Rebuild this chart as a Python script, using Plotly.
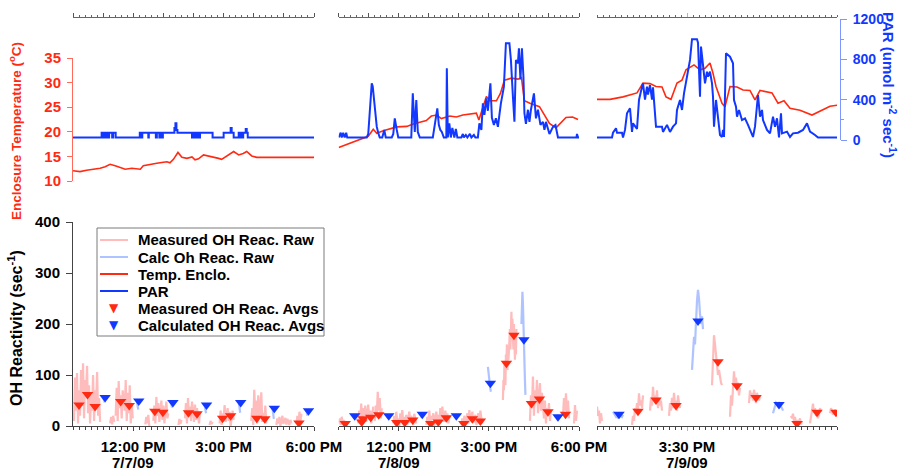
import pandas as pd
import plotly.graph_objects as go

W, H = 903, 470
FONT = "Liberation Sans, Arial, Helvetica, sans-serif"

# ---------------------------------------------------------------- data
DAYS = ["2009-07-07", "2009-07-08", "2009-07-09"]
SPANS = [("10:00", "18:00"), ("10:00", "18:00"), ("14:00", "18:00")]

# bottom axis labels: (time, first line, second line)
xlab1 = [("12:00", "12:00 PM", "7/7/09"), ("15:00", "3:00 PM", ""), ("18:00", "6:00 PM", "")]
xlab2 = [("12:00", "12:00 PM", "7/8/09"), ("15:00", "3:00 PM", ""), ("18:00", "6:00 PM", "")]
xlab3 = [("15:30", "3:30 PM", "7/9/09")]

temp_ticks = [10, 15, 20, 25, 30, 35]
par_ticks = [0, 400, 800, 1200]
par_minor = [200, 600, 1000]
oh_ticks = [0, 100, 200, 300, 400]

# Enclosure temperature (deg C)
temp1 = [("10:00", 12.1), ("10:14", 11.9), ("10:27", 12.2), ("10:41", 12.4), ("10:54", 12.6),
         ("11:04", 12.9), ("11:14", 13.4), ("11:24", 13.1), ("11:34", 12.7), ("11:44", 12.4),
         ("11:57", 12.6), ("12:14", 12.4), ("12:20", 13.1), ("12:33", 13.4), ("12:47", 13.6),
         ("13:00", 13.8), ("13:07", 13.9), ("13:13", 13.7), ("13:20", 14.4), ("13:29", 15.8),
         ("13:37", 14.8), ("13:47", 14.6), ("13:57", 14.9), ("14:03", 14.3), ("14:10", 14.5),
         ("14:20", 15.3), ("14:30", 15.1), ("14:40", 14.9), ("14:50", 14.6), ("14:56", 14.4),
         ("15:06", 15.1), ("15:20", 16.0), ("15:30", 15.3), ("15:39", 15.6), ("15:46", 16.0),
         ("15:56", 15.1), ("16:06", 14.8), ("16:26", 14.8), ("16:46", 14.7), ("17:12", 14.8),
         ("17:39", 14.7), ("18:00", 14.8)]
temp2 = [("10:00", 16.8), ("10:22", 17.7), ("10:59", 19.1), ("11:09", 20.5), ("11:16", 19.7),
         ("11:29", 20.2), ("11:56", 21.0), ("12:16", 21.1), ("12:29", 21.6), ("12:55", 22.3),
         ("13:05", 23.2), ("13:16", 23.4), ("13:25", 22.7), ("13:42", 23.2), ("13:55", 23.0),
         ("14:08", 23.4), ("14:35", 23.8), ("14:40", 22.4), ("14:45", 24.0), ("14:55", 27.2),
         ("15:02", 26.3), ("15:15", 26.3), ("15:23", 27.8), ("15:31", 30.5), ("15:45", 30.9),
         ("15:58", 30.7), ("16:05", 31.0), ("16:11", 26.3), ("16:22", 25.8), ("16:41", 25.1),
         ("17:01", 21.7), ("17:14", 20.8), ("17:34", 22.9), ("17:47", 23.0), ("17:58", 22.5)]
temp3 = [("14:00", 26.6), ("14:13", 26.6), ("14:26", 27.1), ("14:40", 27.9), ("14:46", 29.9),
         ("14:53", 29.8), ("14:59", 29.2), ("15:05", 29.1), ("15:09", 27.1), ("15:14", 26.6),
         ("15:20", 29.9), ("15:25", 30.5), ("15:29", 32.6), ("15:37", 33.6), ("15:43", 32.6),
         ("15:48", 32.9), ("15:53", 34.0), ("15:56", 31.9), ("15:59", 29.2), ("16:05", 25.8),
         ("16:08", 25.1), ("16:13", 29.2), ("16:20", 29.1), ("16:26", 28.5), ("16:33", 28.4),
         ("16:38", 26.5), ("16:43", 28.4), ("16:55", 27.9), ("17:01", 25.8), ("17:07", 26.3),
         ("17:13", 24.8), ("17:23", 24.4), ("17:35", 23.4), ("17:43", 24.2), ("17:53", 25.2),
         ("18:00", 25.4)]

# PAR (umol m-2 s-1)
par1 = [("10:00", 25), ("10:57", 72), ("11:00", 25), ("11:02", 72), ("11:05", 25), ("11:07", 72),
        ("11:10", 25), ("11:12", 72), ("11:18", 25), ("11:20", 72), ("11:25", 25), ("12:13", 72),
        ("12:16", 25), ("12:18", 72), ("12:30", 25), ("12:31", 72), ("12:45", 25), ("12:47", 72),
        ("12:52", 25), ("12:54", 72), ("12:57", 25), ("12:59", 72), ("13:22", 120), ("13:24", 165),
        ("13:26", 100), ("13:28", 72), ("13:57", 25), ("13:59", 72), ("14:01", 25), ("14:03", 72),
        ("14:05", 25), ("14:08", 72), ("14:11", 25), ("14:13", 72), ("14:38", 25), ("15:00", 72),
        ("15:14", 120), ("15:16", 72), ("15:20", 25), ("15:30", 72), ("15:32", 25), ("15:34", 72),
        ("15:37", 25), ("15:39", 72), ("15:44", 110), ("15:46", 72), ("15:48", 25), ("18:00", 25)]
par2 = [("10:00", 25), ("10:04", 72), ("10:06", 25), ("10:09", 72), ("10:12", 25), ("10:15", 72),
        ("10:17", 25), ("10:56", 25), ("10:59", 60), ("11:02", 268), ("11:06", 562), ("11:08", 530),
        ("11:10", 430), ("11:13", 250), ("11:16", 132), ("11:19", 70), ("11:22", 25), ("11:27", 25),
        ("11:31", 99), ("11:34", 25), ("11:46", 25), ("11:49", 60), ("11:52", 215), ("11:56", 100),
        ("11:59", 25), ("12:25", 25), ("12:28", 463), ("12:32", 80), ("12:35", 397), ("12:38", 80),
        ("12:42", 25), ("13:08", 25), ("13:12", 165), ("13:15", 250), ("13:17", 314), ("13:20", 150),
        ("13:23", 100), ("13:26", 80), ("13:30", 25), ("13:35", 25), ("13:36", 711), ("13:38", 25),
        ("13:41", 165), ("13:44", 25), ("13:47", 120), ("13:51", 25), ("13:54", 110), ("13:57", 25),
        ("14:05", 25), ("14:08", 60), ("14:10", 25), ("14:14", 50), ("14:17", 25), ("14:22", 60),
        ("14:25", 25), ("14:30", 50), ("14:33", 25), ("14:38", 25), ("14:41", 165), ("14:45", 100),
        ("14:48", 364), ("14:51", 250), ("14:55", 413), ("14:58", 290), ("15:01", 450), ("15:03", 562),
        ("15:06", 220), ("15:10", 150), ("15:14", 215), ("15:18", 130), ("15:21", 250), ("15:24", 364),
        ("15:30", 529), ("15:34", 959), ("15:41", 959), ("15:44", 794), ("15:48", 430), ("15:51", 182),
        ("15:54", 794), ("15:58", 760), ("16:00", 910), ("16:03", 600), ("16:06", 910), ("16:09", 628),
        ("16:11", 265), ("16:14", 160), ("16:18", 300), ("16:21", 180), ("16:24", 300), ("16:30", 463),
        ("16:34", 215), ("16:38", 300), ("16:43", 150), ("16:48", 180), ("16:51", 100), ("16:54", 180),
        ("17:01", 60), ("17:08", 130), ("17:13", 149), ("17:18", 25), ("17:55", 25), ("17:56", 60),
        ("17:58", 25), ("18:00", 25)]
par3 = [("14:00", 25), ("14:15", 25), ("14:16", 72), ("14:19", 116), ("14:20", 72), ("14:25", 72),
        ("14:26", 25), ("14:28", 100), ("14:30", 265), ("14:33", 314), ("14:35", 80), ("14:36", 165),
        ("14:40", 110), ("14:42", 397), ("14:45", 529), ("14:46", 562), ("14:48", 400), ("14:50", 529),
        ("14:51", 450), ("14:53", 545), ("14:55", 400), ("14:56", 523), ("14:59", 132), ("15:05", 132),
        ("15:06", 80), ("15:10", 150), ("15:13", 80), ("15:16", 132), ("15:19", 165), ("15:20", 298),
        ("15:23", 397), ("15:25", 298), ("15:27", 463), ("15:30", 628), ("15:33", 794), ("15:35", 999),
        ("15:40", 999), ("15:41", 965), ("15:43", 430), ("15:44", 926), ("15:46", 728), ("15:48", 562),
        ("15:50", 678), ("15:51", 628), ("15:53", 678), ("15:55", 562), ("15:56", 430), ("15:57", 132),
        ("15:59", 397), ("16:01", 232), ("16:03", 50), ("16:05", 30), ("16:06", 100), ("16:07", 30),
        ("16:09", 860), ("16:13", 826), ("16:16", 761), ("16:17", 397), ("16:19", 331), ("16:20", 232),
        ("16:22", 298), ("16:25", 198), ("16:28", 215), ("16:31", 150), ("16:33", 100), ("16:36", 30),
        ("16:38", 132), ("16:40", 397), ("16:41", 446), ("16:43", 232), ("16:45", 298), ("16:46", 198),
        ("16:50", 100), ("16:53", 66), ("16:56", 232), ("16:58", 132), ("17:00", 215), ("17:02", 25),
        ("17:04", 265), ("17:05", 66), ("17:10", 83), ("17:13", 30), ("17:16", 66), ("17:21", 72),
        ("17:26", 100), ("17:30", 165), ("17:33", 83), ("17:38", 50), ("17:41", 25), ("18:00", 25)]

# Raw OH reactivity bursts: (start time, minutes between samples, values)
raw_meas1 = [("10:02", 2, [10, 95, 30, 104, 5, 70, 20, 110, 40, 123, 15, 90, 60, 118, 25, 80, 5, 60,
                           30, 100, 10, 70, 40, 106, 20, 55, 8]),
             ("11:14", 2, [5, 18, 3, 20, 8]),
             ("11:25", 2, [20, 75, 10, 88, 35, 60, 15, 70, 50, 30, 90, 10, 65, 25, 80, 5, 45, 15]),
             ("12:24", 2, [3, 18, 5, 22, 0]),
             ("12:40", 2, [10, 40, 5, 57, 20, 45, 8, 35, 50, 12, 40, 5, 30, 48, 15, 25]),
             ("13:30", 2, [2, 14, 4, 12]),
             ("13:43", 2, [15, 45, 5, 55, 20, 38, 10, 48, 30, 8, 42, 12, 35, 20, 5, 28]),
             ("14:32", 2, [2, 10, 4, 8]),
             ("14:52", 2, [5, 30, 2, 25, 15, 41, 8, 20, 35, 10, 28, 0, 18, 30, 12]),
             ("15:55", 2, [10, 35, 2, 71, 20, 50, 5, 60, 15, 30, 66, 8, 25, 12, 40, 5]),
             ("16:45", 2, [2, 15, 5, 18, 0, 12, 20, 4, 10, 16, 3, 14, 8, 2, 12, 5]),
             ("17:25", 2, [5, 20, 2, 28, 10, 24])]
raw_meas2 = [("10:00", 2, [5, 15, 2, 18, 8, 12, 3, 10]),
             ("10:39", 2, [5, 30, 10, 44, 2, 35, 20, 40, 8, 25, 42, 12, 30, 5, 20, 38]),
             ("11:12", 2, [10, 40, 20, 67, 30, 55, 15, 35]),
             ("11:49", 2, [5, 20, 2, 28, 10, 15, 0, 25, 12, 31, 5, 18, 8, 22, 3, 15, 28, 6, 20, 10,
                           2, 24, 14, 5]),
             ("12:55", 2, [2, 18, 8, 30, 4, 20, 12, 25, 0, 15, 28, 10, 22, 5, 35, 12, 38, 20, 8, 30,
                           15, 25, 5, 18]),
             ("14:05", 2, [3, 15, 0, 20, 8, 12, 25, 5, 31, 10, 18, 28, 6, 15, 22, 2, 12, 25, 8, 30,
                           15, 5]),
             ("15:28", 1, [51, 90, 70, 120, 100, 80, 140, 125, 160, 110, 150, 130, 145, 170, 190, 150,
                           200, 224, 180, 210, 170, 150, 200, 160, 130, 170, 140, 190]),
             ("16:22", 2, [10, 60, 35, 97, 20, 70, 45, 90, 25, 55, 84, 30, 65, 40, 15, 50, 5, 35, 20,
                           45, 10, 30]),
             ("17:28", 2, [20, 55, 30, 64, 25, 50, 15]),
             ("17:50", 2, [5, 41, 10, 30])]
raw_meas3 = [("14:00", 1, [38, 20, 30, 5, 25, 10]),
             ("14:35", 1, [2, 20, 10, 35, 25, 45, 30, 64, 40, 50, 35, 60]),
             ("14:53", 1, [30, 55, 40, 77, 50, 60, 45, 70, 35, 55, 40, 50, 30]),
             ("15:12", 1, [20, 45, 30, 55, 35, 65, 40, 50, 30, 60, 45, 35]),
             ("15:55", 1, [80, 150, 178, 160, 140, 120, 100, 110, 90, 85, 80]),
             ("16:13", 1, [18, 60, 40, 90, 107, 80, 95, 70, 85, 60, 75]),
             ("16:32", 1, [45, 70, 55, 65, 50, 71, 60, 45, 65, 55, 50, 60]),
             ("17:14", 1, [20, 15, 24, 10, 18, 5, 12, 2, 8, 15, 3, 10]),
             ("17:33", 1, [5, 20, 30, 44, 25, 35, 20, 30, 15, 25, 35, 28]),
             ("17:53", 1, [25, 35, 30, 22, 28, 32, 26, 30])]

raw_calc1 = [("11:00", 1, [58, 54, 50, 46]), ("12:07", 1, [50, 44, 38, 32]),
             ("13:15", 1, [48, 42, 36]), ("14:22", 1, [42, 36, 30, 25]),
             ("15:30", 1, [48, 40, 32, 26]), ("16:37", 1, [38, 30, 22, 14]),
             ("17:45", 1, [32, 26, 20])]
raw_calc2 = [("10:29", 1, [22, 18, 14]), ("11:37", 1, [22, 18, 15]), ("12:44", 1, [25, 20, 16]),
             ("13:52", 1, [22, 18, 15]), ("14:58", 1, [116, 105, 95, 88, 80, 72, 67]),
             ("16:05", 1, [200, 230, 263, 240, 180, 150, 120, 90, 61]),
             ("17:15", 1, [20, 15, 12])]
raw_calc3 = [("14:16", 1, [28, 25, 22, 18, 20, 15, 22, 25, 20, 18, 22]),
             ("15:35", 1, [110, 140, 175, 160, 215, 245, 267, 250, 220, 200, 215, 190]),
             ("16:56", 1, [25, 32, 40, 46, 44, 42, 45, 40, 38, 35, 30])]

# Averages (sec-1)
avg_meas1 = [("10:12", 41), ("10:29", 62), ("10:44", 38), ("11:35", 48), ("11:52", 40),
             ("12:43", 29), ("12:59", 27), ("13:50", 26), ("14:07", 24), ("14:58", 15),
             ("15:14", 20), ("16:06", 15), ("16:22", 14), ("17:30", 6)]
avg_calc1 = [("11:04", 56), ("12:11", 49), ("13:19", 46), ("14:26", 41), ("15:34", 46),
             ("16:41", 35), ("17:49", 30)]
avg_meas2 = [("10:13", 5), ("10:46", 8), ("10:49", 14), ("11:04", 17), ("11:20", 22),
             ("11:56", 7), ("12:12", 7), ("12:28", 12), ("13:04", 5), ("13:19", 8),
             ("13:35", 16), ("14:10", 5), ("14:27", 14), ("14:43", 10), ("15:35", 123),
             ("15:50", 178), ("16:25", 44), ("16:41", 53), ("16:58", 28), ("17:33", 23)]
avg_calc2 = [("10:32", 20), ("11:40", 20), ("12:47", 23), ("13:55", 20), ("15:03", 84),
             ("16:10", 169), ("17:18", 18)]
avg_meas3 = [("14:41", 29), ("14:59", 51), ("15:19", 40), ("16:01", 126), ("16:20", 79),
             ("16:39", 56), ("17:20", 5), ("17:40", 27), ("17:59", 27)]
avg_calc3 = [("14:22", 23), ("15:41", 206), ("17:02", 42)]

legend_names = ["Measured OH Reac. Raw", "Calc Oh Reac. Raw", "Temp. Enclo.", "PAR",
                "Measured OH Reac. Avgs", "Calculated OH Reac. Avgs"]

# ---------------------------------------------------------------- style / layout
RED = "#ff2a12"
BLUE = "#1238ff"
PINK = "rgba(255,165,165,0.75)"
LBLUE = "rgba(160,185,255,0.85)"
RED_AX = "#ff6a5a"
BLUE_AX = "#7d97ff"
legend_styles = [("line", PINK), ("line", LBLUE), ("line", RED), ("line", BLUE),
                 ("tri", RED), ("tri", BLUE)]

PX_X = [(73, 314), (338.7, 579), (597, 837)]


def fx(p):
    return p / W


def fy(p):
    return 1 - p / H


def stamp(day, hhmm):
    return f"{day} {hhmm}:00"


def series(day, pairs):
    return [stamp(day, t) for t, _ in pairs], [v for _, v in pairs]


def segments(day, segs):
    xs, ys = [], []
    for start, step, vals in segs:
        t0 = pd.Timestamp(stamp(day, start))
        for k, v in enumerate(vals):
            xs.append((t0 + pd.Timedelta(minutes=step * k)).strftime("%Y-%m-%d %H:%M:%S"))
            ys.append(v)
        xs.append(None)
        ys.append(None)
    return xs, ys


def times(day, start, end, step):
    t = pd.Timestamp(stamp(day, start))
    e = pd.Timestamp(stamp(day, end))
    out = []
    while t <= e:
        out.append(t.strftime("%Y-%m-%d %H:%M:%S"))
        t += pd.Timedelta(minutes=step)
    return out


TEMPS = [temp1, temp2, temp3]
PARS = [par1, par2, par3]
RAWM = [raw_meas1, raw_meas2, raw_meas3]
RAWC = [raw_calc1, raw_calc2, raw_calc3]
AVGM = [avg_meas1, avg_meas2, avg_meas3]
AVGC = [avg_calc1, avg_calc2, avg_calc3]
XLABS = [xlab1, xlab2, xlab3]

fig = go.Figure()
TOP = ["x", "x2", "x3"]
BOT = ["x4", "x5", "x6"]

for i in range(3):
    tx, tv = series(DAYS[i], TEMPS[i])
    fig.add_trace(go.Scatter(x=tx, y=tv, xaxis=TOP[i], yaxis="y", mode="lines",
                             line=dict(color=RED, width=1.6), name="Temp. Enclo.",
                             showlegend=False, hoverinfo="skip"))
for i in range(3):
    px_, pv = series(DAYS[i], PARS[i])
    fig.add_trace(go.Scatter(x=px_, y=pv, xaxis=TOP[i], yaxis="y2", mode="lines",
                             line=dict(color=BLUE, width=2, shape="hv" if i == 0 else "linear"),
                             name="PAR", showlegend=False, hoverinfo="skip"))
for i in range(3):
    day = DAYS[i]
    rx, ry = segments(day, RAWM[i])
    fig.add_trace(go.Scatter(x=rx, y=ry, xaxis=BOT[i], yaxis="y3", mode="lines",
                             line=dict(color=PINK, width=2.2), name=legend_names[0],
                             showlegend=False, connectgaps=False, hoverinfo="skip"))
    cx, cy = segments(day, RAWC[i])
    fig.add_trace(go.Scatter(x=cx, y=cy, xaxis=BOT[i], yaxis="y3", mode="lines",
                             line=dict(color=LBLUE, width=2.2), name=legend_names[1],
                             showlegend=False, connectgaps=False, hoverinfo="skip"))
    mx, my = series(day, AVGM[i])
    fig.add_trace(go.Scatter(x=mx, y=my, xaxis=BOT[i], yaxis="y3", mode="markers",
                             marker=dict(symbol="triangle-down", size=10, color=RED),
                             name=legend_names[4], showlegend=False, hoverinfo="skip"))
    ax, ay = series(day, AVGC[i])
    fig.add_trace(go.Scatter(x=ax, y=ay, xaxis=BOT[i], yaxis="y3", mode="markers",
                             marker=dict(symbol="triangle-down", size=10, color=BLUE),
                             name=legend_names[5], showlegend=False, hoverinfo="skip"))

layout = dict(
    width=W, height=H, margin=dict(l=0, r=0, t=0, b=0, autoexpand=False),
    paper_bgcolor="white", plot_bgcolor="rgba(0,0,0,0)",
    font=dict(family=FONT, size=15, color="black"),
    showlegend=False,
)

annotations = []
TOP_POS = fy(17)
for i in range(3):
    day = DAYS[i]
    s, e = SPANS[i]
    rng = [stamp(day, s), stamp(day, e)]
    dom = [fx(PX_X[i][0]), fx(PX_X[i][1])]
    if i < 2:
        major = times(day, s, e, 60)
        minor = times(day, s, e, 12)
        mcol = "#555555"
    else:
        major = [stamp(day, "15:30")]
        minor = times(day, s, e, 6)
        mcol = "#b5b5b5"
    base = dict(type="date", range=rng, showgrid=False, zeroline=False, fixedrange=True,
                tickmode="array", tickvals=major)
    tname = "xaxis" if i == 0 else f"xaxis{i + 1}"
    layout[tname] = dict(base, domain=dom, anchor="free", position=TOP_POS, side="top",
                         showline=True, linecolor="#666666", linewidth=1,
                         ticks="outside", ticklen=4, tickcolor=mcol, showticklabels=False,
                         minor=dict(tickmode="array", tickvals=minor, ticks="outside",
                                    ticklen=2, tickcolor="#666666", showgrid=False))
    layout[f"xaxis{7 + i}"] = dict(base, overlaying=TOP[i], anchor="free", position=TOP_POS,
                                   side="top", showline=False, ticks="inside", ticklen=4,
                                   tickcolor=mcol, showticklabels=False,
                                   minor=dict(tickmode="array", tickvals=minor, ticks="inside",
                                              ticklen=2, tickcolor="#666666", showgrid=False))
    lab_map = {stamp(day, t): a for t, a, b in XLABS[i]}
    btext = [lab_map.get(v, "") for v in major]
    for t, a, b in XLABS[i]:
        if b:
            annotations.append(dict(text=b, x=stamp(day, t), xref=BOT[i], y=fy(462), yref="paper",
                                    showarrow=False, xanchor="center", yanchor="middle",
                                    font=dict(family=FONT, size=15, color="black", weight="bold")))
    bcol = mcol if i == 2 else "#444444"
    layout[f"xaxis{4 + i}"] = dict(base, domain=dom, anchor="y3", side="bottom",
                                   showline=True, linecolor="#444444", linewidth=1,
                                   ticks="outside", ticklen=4, tickcolor=bcol,
                                   ticktext=btext, ticklabelstandoff=3,
                                   tickfont=dict(family=FONT, size=15, color="black", weight="bold"),
                                   minor=dict(tickmode="array", tickvals=minor, ticks="outside",
                                              ticklen=3, tickcolor="#444444", showgrid=False))
    layout[f"xaxis{10 + i}"] = dict(base, overlaying=BOT[i], anchor="y3", side="bottom",
                                    showline=False, ticks="inside", ticklen=4,
                                    tickcolor=bcol, showticklabels=False,
                                    minor=dict(tickmode="array", tickvals=minor, ticks="inside",
                                               ticklen=3, tickcolor="#444444", showgrid=False))

yb = dict(showgrid=False, zeroline=False, fixedrange=True, tickmode="array")
layout["yaxis"] = dict(yb, domain=[fy(181), fy(58)], range=[10, 35], anchor="x", side="left",
                       showline=True, linecolor=RED_AX, linewidth=1, tickvals=temp_ticks,
                       ticks="outside", ticklen=5, tickcolor=RED_AX, ticklabelstandoff=3,
                       tickfont=dict(family=FONT, size=15, color=RED, weight="bold"))
layout["yaxis4"] = dict(yb, overlaying="y", range=[10, 35], anchor="x", side="left",
                        showline=False, tickvals=temp_ticks, ticks="inside", ticklen=5,
                        tickcolor=RED_AX, showticklabels=False)
layout["yaxis2"] = dict(yb, domain=[fy(140), fy(19)], range=[0, 1200], anchor="free",
                        position=fx(840), side="right", showline=True, linecolor=BLUE_AX,
                        linewidth=1, tickvals=par_ticks, ticks="outside", ticklen=6,
                        tickcolor=BLUE_AX, ticklabelstandoff=3,
                        tickfont=dict(family=FONT, size=14, color=BLUE, weight="bold"),
                        minor=dict(tickmode="array", tickvals=par_minor, ticks="outside",
                                   ticklen=3, tickcolor=BLUE_AX, showgrid=False))
layout["yaxis5"] = dict(yb, overlaying="y2", range=[0, 1200], anchor="free", position=fx(840),
                        side="right", showline=False, tickvals=par_ticks, ticks="inside",
                        ticklen=4, tickcolor=BLUE_AX, showticklabels=False,
                        minor=dict(tickmode="array", tickvals=par_minor, ticks="inside",
                                   ticklen=3, tickcolor=BLUE_AX, showgrid=False))
layout["yaxis3"] = dict(yb, domain=[fy(426), fy(222)], range=[0, 400], anchor="x4", side="left",
                        showline=True, linecolor="#444444", linewidth=1, tickvals=oh_ticks,
                        ticks="outside", ticklen=6, tickcolor="#444444", ticklabelstandoff=3,
                        tickfont=dict(family=FONT, size=15, color="black", weight="bold"))
layout["yaxis6"] = dict(yb, overlaying="y3", range=[0, 400], anchor="x4", side="left",
                        showline=False, tickvals=oh_ticks, ticks="inside", ticklen=3,
                        tickcolor="#444444", showticklabels=False)

annotations += [
    dict(text="Enclosure Temperature (<sup>o</sup>C)", x=fx(15), y=fy(131), xref="paper",
         yref="paper", textangle=-90, showarrow=False, xanchor="center", yanchor="middle",
         font=dict(family=FONT, size=13.5, color=RED, weight="bold")),
    dict(text="OH Reactivity (sec<sup>-1</sup>)", x=fx(15), y=fy(328), xref="paper",
         yref="paper", textangle=-90, showarrow=False, xanchor="center", yanchor="middle",
         font=dict(family=FONT, size=16, color="black", weight="bold")),
    dict(text="PAR (umol m<sup>-2</sup> sec<sup>-1</sup>)", x=fx(889), y=fy(85), xref="paper",
         yref="paper", textangle=90, showarrow=False, xanchor="center", yanchor="middle",
         font=dict(family=FONT, size=15, color=BLUE, weight="bold")),
]

# legend box drawn by hand so that the row spacing matches the original
shapes = [dict(type="rect", xref="paper", yref="paper", x0=fx(97), x1=fx(324), y0=fy(336),
               y1=fy(228), line=dict(color="#7a7a7a", width=1), fillcolor="white", layer="above")]
for k, (name, (kind, col)) in enumerate(zip(legend_names, legend_styles)):
    yrow = 240 + 17 * k
    if kind == "line":
        shapes.append(dict(type="line", xref="paper", yref="paper", x0=fx(100), x1=fx(128),
                           y0=fy(yrow), y1=fy(yrow), line=dict(color=col, width=2),
                           layer="above"))
    else:
        annotations.append(dict(text="\u25BC", x=fx(114), y=fy(yrow), xref="paper", yref="paper",
                                showarrow=False, xanchor="center", yanchor="middle",
                                font=dict(family="DejaVu Sans", size=12, color=col)))
    annotations.append(dict(text=name, x=fx(136), y=fy(yrow), xref="paper", yref="paper",
                            showarrow=False, xanchor="left", yanchor="middle",
                            font=dict(family=FONT, size=15, color="black", weight="bold")))

layout["annotations"] = annotations
layout["shapes"] = shapes

fig.update_layout(**layout)
fig.write_html("out.html", config={"displayModeBar": False, "staticPlot": True},
               post_script="document.body.style.margin='0px';document.body.style.overflow='hidden';")
